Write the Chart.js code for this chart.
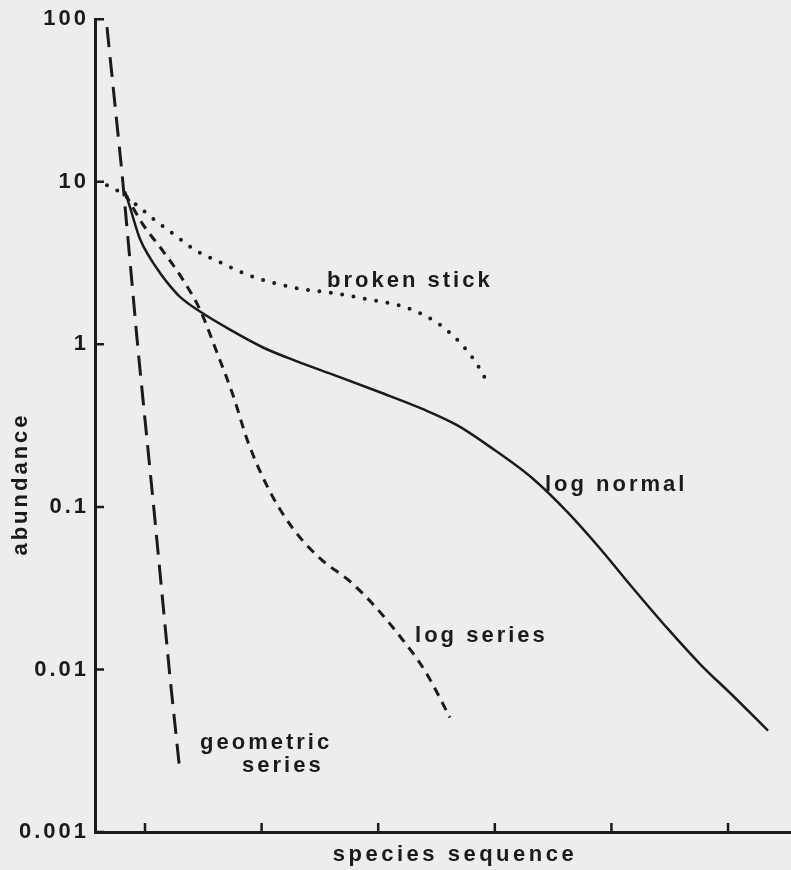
<!DOCTYPE html>
<html><head><meta charset="utf-8">
<script src="https://cdn.jsdelivr.net/npm/chart.js@4/dist/chart.umd.min.js"></script>
<style>
html,body{margin:0;padding:0;background:#ededeb;}
#wrap{width:791px;height:870px;position:relative;}
</style></head><body>
<div id="wrap"><canvas id="c" width="791" height="870"></canvas></div>
<script>
// ---- data ----
const yTickValues = [0.001, 0.01, 0.1, 1, 10, 100];
const yTickLabels = ['0.001', '0.01', '0.1', '1', '10', '100'];
const xTickValues = [1, 2, 3, 4, 5, 6];
const seriesNames = ['geometric series', 'log series', 'broken stick', 'log normal'];

const geometricX = [0.674, 0.803, 0.94, 1.077, 1.214, 1.30];
const geometricY = [89.3, 11.3, 0.93, 0.096, 0.0090, 0.00233];

const logSeriesX = [0.828, 0.983, 1.154, 1.326, 1.472, 1.617, 1.755, 1.883, 2.072, 2.269, 2.501, 2.758, 2.955, 3.204, 3.401, 3.616];
const logSeriesY = [8.49, 5.45, 3.75, 2.49, 1.63, 0.891, 0.486, 0.251, 0.124, 0.0736, 0.0482, 0.0348, 0.0252, 0.0154, 0.0098, 0.00506];

const brokenStickX = [0.674, 0.760, 0.846, 0.931, 1.086, 1.257, 1.429, 1.617, 1.883, 2.098, 2.355, 2.612, 2.930, 3.247, 3.504, 3.642, 3.787, 3.899, 3.942];
const brokenStickY = [9.51, 8.86, 8.03, 7.17, 5.80, 4.70, 3.80, 3.26, 2.67, 2.39, 2.18, 2.07, 1.88, 1.68, 1.36, 1.13, 0.867, 0.653, 0.560];

const logNormalX = [0.828, 0.871, 0.957, 1.043, 1.129, 1.214, 1.300, 1.472, 1.729, 2.012, 2.304, 2.629, 3.015, 3.384, 3.676, 3.959, 4.327, 4.619, 4.902, 5.185, 5.477, 5.760, 6.042, 6.343];
const logNormalY = [8.73, 6.97, 4.44, 3.40, 2.75, 2.29, 1.96, 1.59, 1.23, 0.956, 0.785, 0.644, 0.507, 0.399, 0.318, 0.234, 0.149, 0.0935, 0.0555, 0.0316, 0.0180, 0.0108, 0.00689, 0.00421];

const xTitle = 'species sequence';
const yTitle = 'abundance';

// ---- styling / layout ----
const INK = '#1b1b1b';
const FONT = "'Liberation Sans', Arial, Helvetica, sans-serif";

// curve labels anchored to data coordinates (left edge, vertical middle)
const curveLabels = [
  { text: 'broken stick', x: 2.561, y: 2.46 },
  { text: 'log normal',   x: 4.430, y: 0.137 },
  { text: 'log series',   x: 3.316, y: 0.0161 },
  { text: 'geometric',    x: 1.472, y: 0.00351 },
  { text: 'series',       x: 1.832, y: 0.00254 }
];

const pts = (xs, ys) => xs.map((x, i) => ({ x: x, y: ys[i] }));

const letterSpacingPlugin = {
  id: 'letterSpacing',
  beforeDraw(chart) { chart.ctx.letterSpacing = '3px'; }
};

const inwardTicks = {
  id: 'inwardTicks',
  afterDraw(chart) {
    const { ctx, chartArea: a, scales } = chart;
    ctx.save();
    ctx.strokeStyle = INK; ctx.lineWidth = 2.5; ctx.lineCap = 'butt';
    ctx.beginPath();
    xTickValues.forEach(v => {
      const px = scales.x.getPixelForValue(v);
      ctx.moveTo(px, a.bottom); ctx.lineTo(px, a.bottom - 9);
    });
    yTickValues.forEach(v => {
      const py = scales.y.getPixelForValue(v);
      ctx.moveTo(a.left, py); ctx.lineTo(a.left + 9, py);
    });
    ctx.stroke();
    ctx.restore();
  }
};

const textPlugin = {
  id: 'texts',
  afterDraw(chart) {
    const { ctx, scales } = chart;
    ctx.save();
    ctx.fillStyle = INK;
    ctx.letterSpacing = '3px';
    ctx.font = 'bold 22px ' + FONT;
    ctx.textBaseline = 'middle';
    ctx.textAlign = 'left';
    curveLabels.forEach(l => {
      ctx.fillText(l.text, scales.x.getPixelForValue(l.x), scales.y.getPixelForValue(l.y));
    });
    // axis titles
    ctx.letterSpacing = '3.5px';
    ctx.textAlign = 'center';
    ctx.fillText(xTitle, 455, 855);
    ctx.save();
    ctx.translate(21, 484);
    ctx.rotate(-Math.PI / 2);
    ctx.letterSpacing = '3px';
    ctx.fillText(yTitle, 0, 0);
    ctx.restore();
    ctx.restore();
  }
};

new Chart(document.getElementById('c'), {
  type: 'line',
  data: {
    datasets: [
      { label: seriesNames[0], data: pts(geometricX, geometricY), borderColor: INK, borderWidth: 3,
        borderDash: [20, 10], tension: 0, pointRadius: 0 },
      { label: seriesNames[1], data: pts(logSeriesX, logSeriesY), borderColor: INK, borderWidth: 3,
        borderDash: [9, 7], cubicInterpolationMode: 'monotone', pointRadius: 0 },
      { label: seriesNames[2], data: pts(brokenStickX, brokenStickY), borderColor: INK, borderWidth: 4,
        borderDash: [0, 11.5], borderCapStyle: 'round', cubicInterpolationMode: 'monotone', pointRadius: 0 },
      { label: seriesNames[3], data: pts(logNormalX, logNormalY), borderColor: INK, borderWidth: 2.5,
        cubicInterpolationMode: 'monotone', pointRadius: 0 }
    ]
  },
  options: {
    responsive: false,
    animation: false,
    devicePixelRatio: 1,
    layout: { padding: { top: 15, right: 0, bottom: 0, left: 0 } },
    plugins: { legend: { display: false }, tooltip: { enabled: false } },
    scales: {
      x: {
        type: 'linear', min: 0.5712, max: 6.54,
        afterBuildTicks: s => { s.ticks = xTickValues.map(v => ({ value: v })); },
        afterFit: s => { s.height = 38; },
        ticks: { display: false },
        grid: { display: false, drawTicks: false },
        border: { display: true, color: INK, width: 3 }
      },
      y: {
        type: 'logarithmic', min: 0.001, max: 100,
        afterBuildTicks: s => { s.ticks = yTickValues.map(v => ({ value: v })); },
        afterFit: s => { s.width = 95; },
        ticks: {
          color: INK, padding: 6, font: { family: FONT, size: 22, weight: 'bold' },
          callback: (v) => { const i = yTickValues.indexOf(v); return i >= 0 ? yTickLabels[i] : ''; }
        },
        grid: { display: false, drawTicks: false },
        border: { display: true, color: INK, width: 3 }
      }
    }
  },
  plugins: [letterSpacingPlugin, inwardTicks, textPlugin]
});
</script>
</body></html>
